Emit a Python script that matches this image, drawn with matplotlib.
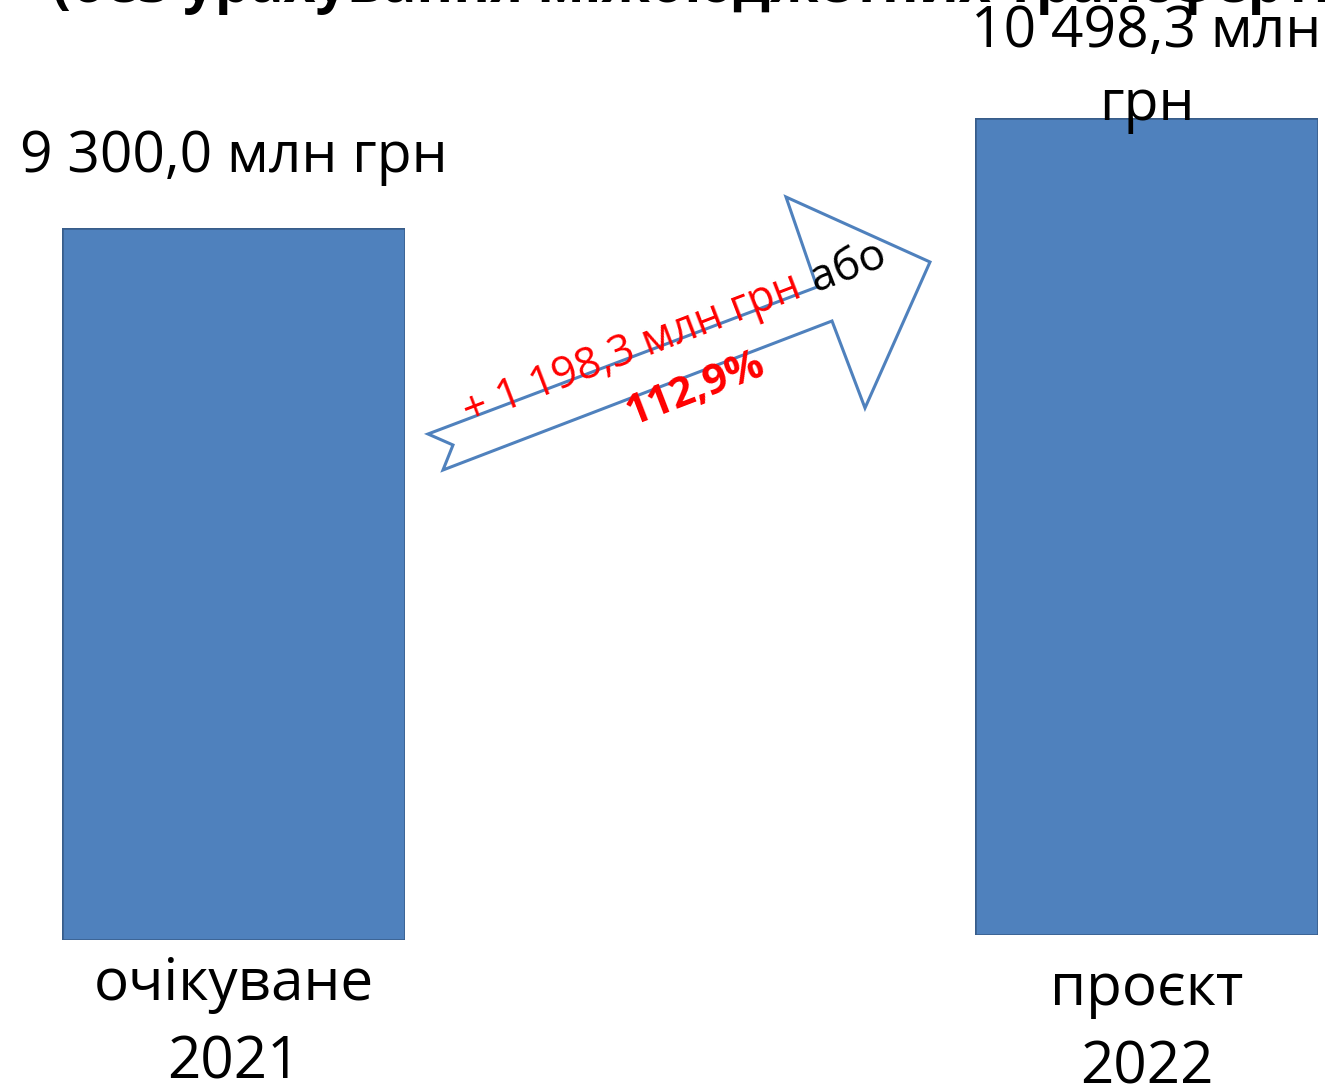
import matplotlib
matplotlib.use("Agg")
import matplotlib.pyplot as plt
from matplotlib.patches import Polygon

plt.rcParams['font.family'] = ['Open Sans', 'DejaVu Sans']

categories = ["очікуване\n2021", "проєкт\n2022"]
values = [9300.0, 10498.3]
value_labels = ["9 300,0 млн грн", "10 498,3 млн\nгрн"]
diff_label = "+ 1 198,3 млн грн"
pct_label = "112,9%"
title = "(без урахування міжбюджетних трансфертів)"

W, H = 1325, 1089
fig = plt.figure(figsize=(W / 100, H / 100), dpi=100)
fig.patch.set_facecolor("white")

def px_rect(x0, y0, x1, y1):
    return [x0 / W, 1 - y1 / H, (x1 - x0) / W, (y1 - y0) / H]

bar_color = "#4F81BD"
edge_color = "#385D8A"

# two panels, each with its own bar
panels = [(62, 228, 405, 940), (975, 118, 1318, 935)]
label_y = [(158, None), (32, 105)]
cat_y = [985, 990]
for i, (rect, cat, val, lab) in enumerate(zip(panels, categories, values, value_labels)):
    ax = fig.add_axes(px_rect(*rect))
    ax.bar([0], [val], width=1.0, color=bar_color, edgecolor=edge_color, linewidth=1.8)
    ax.set_xlim(-0.5, 0.5)
    ax.set_ylim(0, val)
    ax.axis("off")
    cx = (rect[0] + rect[2]) / 2
    line1, line2 = cat.split("\n")
    cy = cat_y[i]
    fig.text(cx / W, 1 - cy / H, line1, ha="center", va="center", fontsize=42)
    fig.text(cx / W, 1 - (cy + 78) / H, line2, ha="center", va="center", fontsize=42)
    parts = lab.split("\n")
    fig.text(cx / W, 1 - label_y[i][0] / H, parts[0], ha="center", va="center", fontsize=41)
    if len(parts) > 1:
        fig.text(cx / W, 1 - label_y[i][1] / H, parts[1], ha="center", va="center", fontsize=41)

# title (cut off at the top)
fig.text(52 / W, 1 - 2 / H, title, ha="left", va="baseline", fontsize=40,
         fontweight="bold")

# arrow shape
arrow_px = [(428, 434), (817, 287), (786, 197), (930, 262), (865, 408),
            (832, 321), (443, 470), (453, 445)]
pts = [(x / W, 1 - y / H) for x, y in arrow_px]
poly = Polygon(pts, closed=True, transform=fig.transFigure, facecolor="white",
               edgecolor=bar_color, linewidth=2.2, zorder=5)
fig.patches.append(poly)

ang = 21
fig.text(632 / W, 1 - 350 / H, diff_label, ha="center", va="center", fontsize=31,
         color="red", rotation=ang, rotation_mode="anchor", zorder=6)
fig.text(848 / W, 1 - 268 / H, "або", ha="center", va="center", fontsize=32,
         color="black", rotation=ang, rotation_mode="anchor", zorder=6)
fig.text(696 / W, 1 - 390 / H, pct_label, ha="center", va="center", fontsize=30,
         color="red", fontweight="bold", rotation=ang, rotation_mode="anchor", zorder=6)

fig.savefig("out.png", dpi=100, facecolor="white")
